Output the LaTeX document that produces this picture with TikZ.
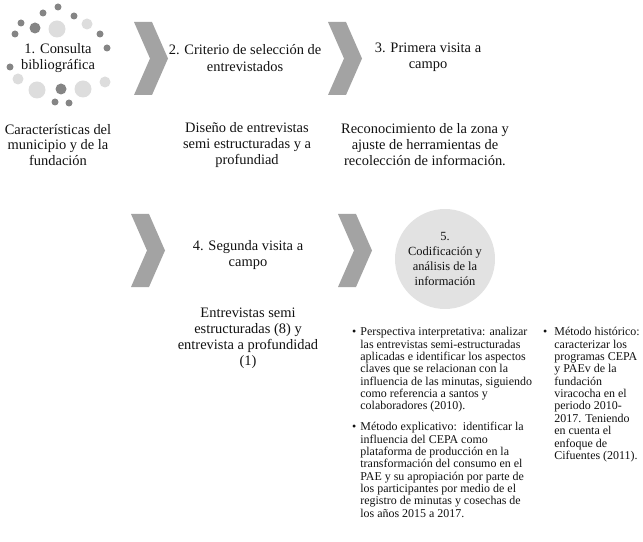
\documentclass[tikz,border=0pt]{standalone}
\usepackage{fontspec}
\setmainfont{Liberation Serif}
\usepackage{xcolor}
\usetikzlibrary{positioning,calc}
\definecolor{DotDark}{HTML}{858585}
\definecolor{DotLight}{HTML}{DDDDDD}
\definecolor{ChevGray}{HTML}{A3A3A3}
\definecolor{StepFill}{HTML}{E2E2E2}
\definecolor{TextBlack}{HTML}{111111}
\tikzset{
  steptitle/.style={align=center, inner sep=0pt, text=TextBlack, font=\fontsize{14.5}{16.5}\selectfont},
  stepdesc/.style={align=center, inner sep=0pt, text=TextBlack, font=\fontsize{14.5}{16}\selectfont},
  bulletnote/.style={align=left, inner sep=0pt, text=TextBlack, anchor=north west, font=\fontsize{12}{12.4}\selectfont},
  dotsmall/.style={circle, fill=DotDark, inner sep=0pt, minimum size=7bp},
  dotmid/.style={circle, fill=DotDark, inner sep=0pt, minimum size=11bp},
  dotpale/.style={circle, fill=DotLight, inner sep=0pt, minimum size=11bp},
  dotbig/.style={circle, fill=DotLight, inner sep=0pt, minimum size=17bp},
  stepcircle/.style={circle, fill=StepFill, inner sep=0pt, minimum size=100bp, align=center, text=TextBlack, font=\fontsize{12.5}{15}\selectfont},
  chev/.pic={\fill[ChevGray] (0,0) -- (18,0) -- (34,36.5) -- (18,73) -- (0,73) -- (16,36.5) -- cycle;}
}

\begin{document}
\begin{tikzpicture}[x=1bp, y=-1bp]
\useasboundingbox (0,0) rectangle (643,542);
% ring of dots round step 1
\node[dotsmall] (d1) at (58,7) {};
\node[dotsmall] (d2) at (43,13) {};
\node[dotsmall] (d3) at (74,16) {};
\node[dotsmall] (d4) at (21,23) {};
\node[dotmid] (d5) at (35,28) {};
\node[dotbig] (d6) at (57,29) {};
\node[dotpale] (d7) at (87,24) {};
\node[dotsmall] (d8) at (15,34) {};
\node[dotsmall] (d9) at (100,34) {};
\node[dotsmall] (d10) at (107,48) {};
\node[dotsmall] (d11) at (10,67) {};
\node[dotpale] (d12) at (18,79) {};
\node[dotbig] (d13) at (37,90) {};
\node[dotmid] (d14) at (61,89) {};
\node[dotbig] (d15) at (83,89) {};
\node[dotpale] (d16) at (105,82) {};
\node[dotsmall] (d17) at (55,102) {};
\node[dotsmall] (d18) at (69,103) {};
% chevrons
\pic at (134,22) {chev};
\pic at (328,22) {chev};
\pic at (131,214) {chev};
\pic at (338,214) {chev};
% step titles
\node[steptitle] (s1) at (58,58) {1. Consulta\\bibliográfica};
\node[steptitle] (s2) at (245,58) {2. Criterio de selección de\\entrevistados};
\node[steptitle] (s3) at (428,57) {3. Primera visita a\\campo};
\node[steptitle] (s4) at (248,255) {4. Segunda visita a\\campo};
\node[stepcircle] (s5) at (445,259) {5.\\Codificación y\\análisis de la\\información};
% descriptions
\node[stepdesc] (r1) at (58,145) {Características del\\municipio y de la\\fundación};
\node[stepdesc] (r2) at (247,145) {Diseño de entrevistas\\semi estructuradas y a\\profundiad};
\node[stepdesc] (r3) at (425,145) {Reconocimiento de la zona y\\ajuste de herramientas de\\recolección de información.};
\node[stepdesc] (r4) at (248,338) {Entrevistas semi\\estructuradas (8) y\\entrevista a profundidad\\(1)};
% method notes
\node[bulletnote] (m1) at (352,327) {\begin{tabular}{@{}l@{\hspace{4bp}}l@{}}
\textbullet & Perspectiva interpretativa: analizar\\
 & las entrevistas semi-estructuradas\\
 & aplicadas e identificar los aspectos\\
 & claves que se relacionan con la\\
 & influencia de las minutas, siguiendo\\
 & como referencia a santos y\\
 & colaboradores (2010).
\end{tabular}};
\node[bulletnote] (m2) at (352,422) {\begin{tabular}{@{}l@{\hspace{4bp}}l@{}}
\textbullet & Método explicativo:\ \ identificar la\\
 & influencia del CEPA como\\
 & plataforma de producción en la\\
 & transformación del consumo en el\\
 & PAE y su apropiación por parte de\\
 & los participantes por medio de el\\
 & registro de minutas y cosechas de\\
 & los años 2015 a 2017.
\end{tabular}};
\node[bulletnote] (m3) at (543,327) {\begin{tabular}{@{}l@{\hspace{7bp}}l@{}}
\textbullet & Método histórico:\\
 & caracterizar los\\
 & programas CEPA\\
 & y PAEv de la\\
 & fundación\\
 & viracocha en el\\
 & periodo 2010-\\
 & 2017. Teniendo\\
 & en cuenta el\\
 & enfoque de\\
 & Cifuentes (2011).
\end{tabular}};
\end{tikzpicture}
\end{document}
